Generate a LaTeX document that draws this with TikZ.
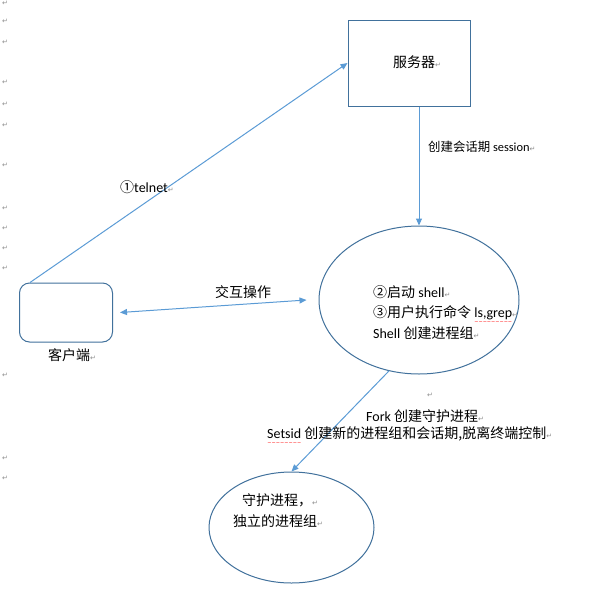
\documentclass[tikz,border=0pt]{standalone}
\usepackage{fontspec}
\setmainfont{Carlito}
\newfontfamily\cjk{Noto Sans CJK SC}
\newfontfamily\retfont{DejaVu Sans}
\usepackage{xcolor}
\usepackage{tikz}
\usetikzlibrary{arrows.meta,positioning,shapes.geometric}
\definecolor{lineblue}{HTML}{5B9BD5}
\definecolor{edgeblue}{HTML}{41719C}
\definecolor{retgray}{HTML}{8C8C8C}
\newcommand\ret{{\retfont\fontsize{7}{7}\selectfont\color{retgray}↵}}
\newcommand\wavy[1]{\setbox0=\hbox{#1}\rlap{\raisebox{-6pt}{\color{red}\retfont\fontsize{5}{5}\selectfont\xleaders\hbox{\char"007E}\hskip\wd0}}#1}
\tikzset{
  rectbox/.style ={draw=edgeblue, line width=1pt, fill=white, inner sep=0pt},
  roundbox/.style={draw=edgeblue, line width=1pt, fill=white, inner sep=0pt, rounded corners=10pt},
  oval/.style    ={draw=edgeblue, line width=1pt, fill=white, ellipse, inner sep=0pt},
  txt/.style     ={inner sep=0pt, anchor=west, align=left, font=\fontsize{14}{20.5}\selectfont},
  pmark/.style   ={inner sep=0pt},
  arr/.style     ={-{Triangle[length=7pt,width=6pt]}, draw=lineblue, line width=1pt},
  darr/.style    ={{Triangle[length=7pt,width=6pt]}-{Triangle[length=7pt,width=6pt]}, draw=lineblue, line width=1pt},
}
\begin{document}
\begin{tikzpicture}[x=1pt, y=-1pt]
  \useasboundingbox (0,0) rectangle (594,592);
  % paragraph marks in the margin
  \foreach \y in {3,21,42,82,104,125,165,208,228,248,268,375,458,478}
    \node[pmark] (mk\y) at (5,\y) {\ret};
  % shapes
  \node[rectbox, minimum width=122pt, minimum height=86pt] (server) at (409,63) {};
  \node[roundbox, minimum width=93pt, minimum height=59pt] (client) at (66,312.5) {};
  \node[oval, minimum width=200pt, minimum height=148pt] (sess) at (419,300) {};
  \node[oval, minimum width=165pt, minimum height=111pt] (daemon) at (291.5,527.5) {};
  % texts
  \node[txt] (servertxt) at (393,62) {{\cjk 服务器}\ret};
  \node[txt] (clienttxt) at (48,355) {{\cjk 客户端}\ret};
  \node[txt] (sesstxt) at (373,312.5) {{\cjk ②启动} shell\ret\\
    {\cjk ③用户执行命令} \wavy{ls,grep}\ret\\
    Shell {\cjk 创建进程组}\ret};
  \node[txt] (daemontxt) at (233,510.5) {\hspace{9pt}{\cjk 守护进程，}\ret\\
    {\cjk 独立的进程组}\ret};
  % connectors
  \draw[arr] ([xshift=11pt]client.north west) -- (server.west);
  \draw[arr] (sess.north |- server.south) -- (sess.north);
  \draw[darr] ([xshift=7pt]client.east) -- ([xshift=-12pt]sess.west);
  \draw[arr] (sess.247) -- (daemon.north);
  % connector labels
  \node[txt] (telnet) at (120,187) {{\cjk ①}telnet\ret};
  \node[txt, font=\fontsize{12.4}{15}\selectfont] (session) at (428,147) {{\cjk 创建会话期} session\ret};
  \node[txt] (interact) at (215,292) {{\cjk 交互操作}};
  \node[pmark] (blank) at (430,395) {\ret};
  \node[txt] (fork) at (366,416) {Fork {\cjk 创建守护进程}\ret};
  \node[txt] (setsid) at (267,436) {\wavy{Setsid} {\cjk 创建新的进程组和会话期,脱离终端控制}\ret};
\end{tikzpicture}
\end{document}
